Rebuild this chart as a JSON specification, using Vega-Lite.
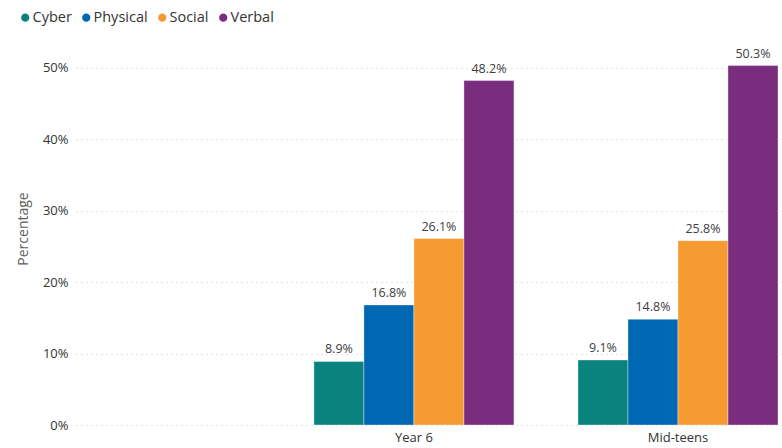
{
  "$schema": "https://vega.github.io/schema/vega-lite/v6.json",
  "autosize": {"type": "none"},
  "width": 706,
  "height": 393,
  "padding": {"left": 76, "top": 32, "right": 0, "bottom": 23},
  "background": "white",
  "config": {
    "font": "Open Sans",
    "view": {"stroke": null}
  },
  "data": {
    "values": [
      {"group": "Year 6", "type": "Cyber", "value": 0.089},
      {"group": "Year 6", "type": "Physical", "value": 0.168},
      {"group": "Year 6", "type": "Social", "value": 0.261},
      {"group": "Year 6", "type": "Verbal", "value": 0.482},
      {"group": "Mid-teens", "type": "Cyber", "value": 0.091},
      {"group": "Mid-teens", "type": "Physical", "value": 0.148},
      {"group": "Mid-teens", "type": "Social", "value": 0.258},
      {"group": "Mid-teens", "type": "Verbal", "value": 0.503}
    ]
  },
  "encoding": {
    "x": {
      "field": "group",
      "type": "nominal",
      "sort": ["Year 6", "Mid-teens"],
      "scale": {"paddingInner": 0.2424, "paddingOuter": 0.458, "align": 0.9835},
      "axis": {
        "title": null,
        "labelAngle": 0,
        "ticks": false,
        "domain": false,
        "labelFontSize": 13,
        "labelColor": "#333333",
        "labelPadding": 6
      }
    },
    "xOffset": {
      "field": "type",
      "type": "nominal",
      "sort": ["Cyber", "Physical", "Social", "Verbal"],
      "scale": {"paddingInner": 0, "paddingOuter": 0}
    },
    "y": {
      "field": "value",
      "type": "quantitative",
      "scale": {"domain": [0, 0.55], "nice": false},
      "axis": {
        "title": "Percentage",
        "titleFontSize": 14,
        "titleFontWeight": "normal",
        "titleColor": "#605E5C",
        "titlePadding": 12,
        "format": ".0%",
        "values": [0, 0.1, 0.2, 0.3, 0.4, 0.5],
        "labelFontSize": 13,
        "labelColor": "#333333",
        "labelPadding": 8,
        "ticks": false,
        "domain": false,
        "grid": true,
        "gridColor": "#C8C8C8",
        "gridDash": [1, 4],
        "gridWidth": 1
      }
    },
    "color": {
      "field": "type",
      "type": "nominal",
      "sort": ["Cyber", "Physical", "Social", "Verbal"],
      "scale": {
        "domain": ["Cyber", "Physical", "Social", "Verbal"],
        "range": ["#0A837F", "#0068B2", "#F59B32", "#7A2D7E"]
      },
      "legend": {
        "title": null,
        "orient": "none",
        "legendX": -58,
        "legendY": -22,
        "direction": "horizontal",
        "symbolType": "circle",
        "symbolSize": 95,
        "labelFontSize": 14.5,
        "labelColor": "#333333",
        "labelOffset": 0,
        "columnPadding": 6
      }
    }
  },
  "layer": [
    {
      "mark": {"type": "bar", "stroke": "white", "strokeWidth": 0.6, "strokeOpacity": 0.6}
    },
    {
      "mark": {"type": "text", "baseline": "bottom", "dy": -5, "fontSize": 12.5, "color": "#404040"},
      "encoding": {
        "text": {"field": "value", "type": "quantitative", "format": ".1%"},
        "color": {"value": "#404040"}
      }
    }
  ]
}
